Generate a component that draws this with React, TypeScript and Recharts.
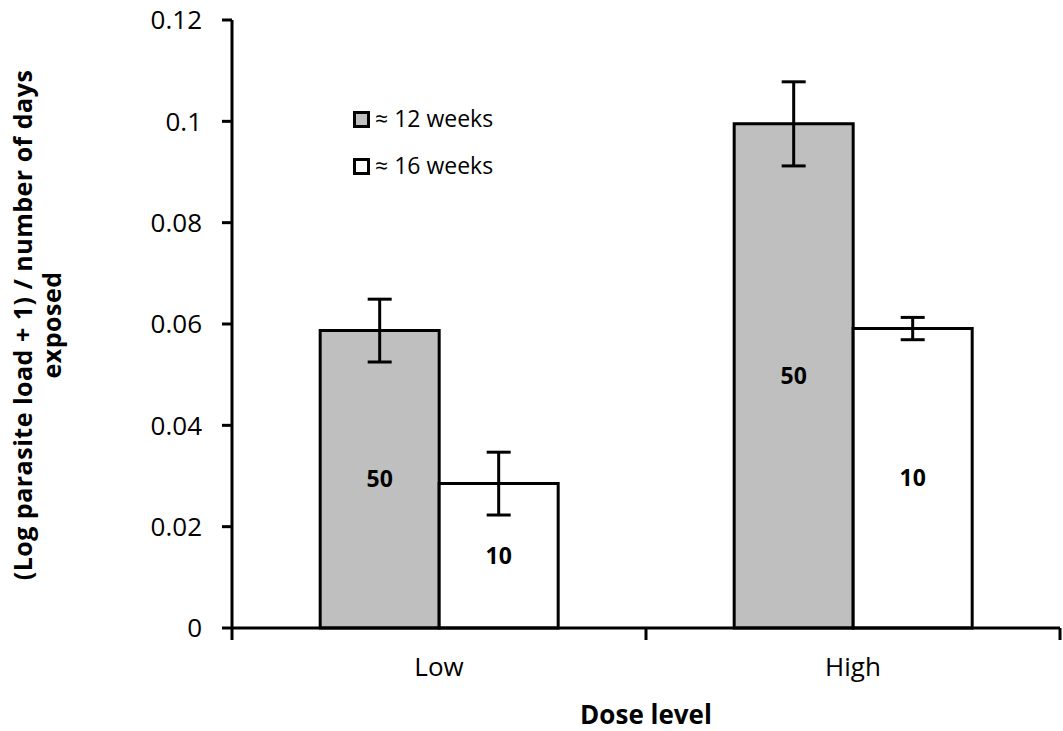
import React from 'react';
import { BarChart, Bar, XAxis, YAxis, ErrorBar, LabelList } from 'recharts';

const categories = ['Low', 'High'];
const weeks12 = [0.0587, 0.0995];
const weeks16 = [0.0285, 0.0591];
const err12 = [0.0062, 0.0083];
const err16 = [0.0062, 0.0022];
const n12 = ['50', '50'];
const n16 = ['10', '10'];
const yTicks = [0, 0.02, 0.04, 0.06, 0.08, 0.1, 0.12];
const seriesNames = ['\u2248 12 weeks', '\u2248 16 weeks'];

const data = categories.map((c, i) => ({
  dose: c,
  w12: weeks12[i],
  w16: weeks16[i],
  e12: err12[i],
  e16: err16[i],
  n12: n12[i],
  n16: n16[i],
}));

const FONT = '"Open Sans", Lato, sans-serif';

const XTick = (props: any) => {
  const { x, payload, index, visibleTicksCount, width } = props;
  const count = visibleTicksCount || categories.length;
  const half = (width || 828) / count / 2;
  return (
    <g>
      <line x1={x - half} y1={628} x2={x - half} y2={640} stroke="#000" strokeWidth={3} />
      {index === count - 1 && (
        <line x1={x + half} y1={628} x2={x + half} y2={640} stroke="#000" strokeWidth={3} />
      )}
      <text x={x} y={676} textAnchor="middle" fontSize={26} fontFamily={FONT} fill="#000">
        {payload.value}
      </text>
    </g>
  );
};

const LegendBox = () => (
  <g>
    {seriesNames.map((name, i) => (
      <g key={name}>
        <rect
          x={354.5}
          y={112.5 + i * 47}
          width={14}
          height={14}
          fill={i === 0 ? '#bfbfbf' : '#ffffff'}
          stroke="#000"
          strokeWidth={3}
        />
        <text x={375} y={127 + i * 47} fontSize={23} fontFamily={FONT} fill="#000">
          {name}
        </text>
      </g>
    ))}
  </g>
);

export default function App() {
  return (
    <div style={{ position: 'absolute', left: 0, top: 0, width: 1063, height: 731, background: '#fff' }}>
      <BarChart
        width={1063}
        height={731}
        data={data}
        margin={{ top: 20, right: 3, bottom: 0, left: 0 }}
        barCategoryGap="21.3%"
        barGap={0}
      >
        <XAxis
          dataKey="dose"
          height={103}
          tickLine={false}
          axisLine={{ stroke: '#000', strokeWidth: 3 }}
          tick={<XTick />}
          interval={0}
        />
        <YAxis
          width={232}
          domain={[0, 0.12]}
          ticks={yTicks}
          interval={0}
          tickSize={10}
          tickMargin={20}
          axisLine={{ stroke: '#000', strokeWidth: 3 }}
          tickLine={{ stroke: '#000', strokeWidth: 3 }}
          tick={{ fontSize: 26, fontFamily: FONT, fill: '#000' }}
          tickFormatter={(v: number) => String(v)}
        />
        <Bar dataKey="w12" fill="#bfbfbf" stroke="#000" strokeWidth={3} isAnimationActive={false}>
          <ErrorBar dataKey="e12" width={12} stroke="#000" strokeWidth={3} direction="y" />
          <LabelList
            dataKey="n12"
            position="center"
            fontSize={23}
            fontWeight="bold"
            fontFamily={FONT}
            fill="#000"
          />
        </Bar>
        <Bar dataKey="w16" fill="#ffffff" stroke="#000" strokeWidth={3} isAnimationActive={false}>
          <ErrorBar dataKey="e16" width={12} stroke="#000" strokeWidth={3} direction="y" />
          <LabelList
            dataKey="n16"
            position="center"
            fontSize={23}
            fontWeight="bold"
            fontFamily={FONT}
            fill="#000"
          />
        </Bar>
      </BarChart>
      <svg
        width={1063}
        height={731}
        style={{ position: 'absolute', left: 0, top: 0, pointerEvents: 'none' }}
      >
        <LegendBox />
        <text
          transform="translate(32,325) rotate(-90)"
          textAnchor="middle"
          fontSize={25}
          letterSpacing={0.5}
          fontWeight="bold"
          fontFamily={FONT}
          fill="#000"
        >
          (Log parasite load + 1) / number of days
        </text>
        <text
          transform="translate(61,325) rotate(-90)"
          textAnchor="middle"
          fontSize={25}
          letterSpacing={0.5}
          fontWeight="bold"
          fontFamily={FONT}
          fill="#000"
        >
          exposed
        </text>
        <text x={646} y={724} textAnchor="middle" fontSize={26} fontWeight="bold" fontFamily={FONT} fill="#000">
          Dose level
        </text>
      </svg>
    </div>
  );
}
